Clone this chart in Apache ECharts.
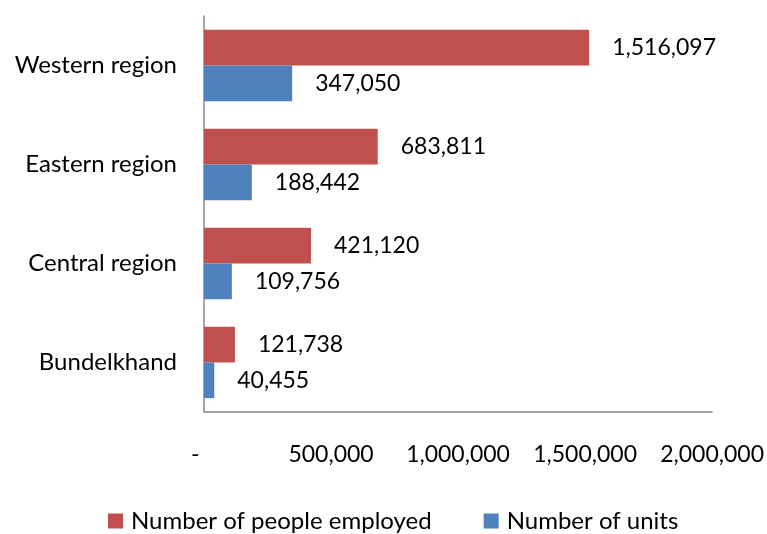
<!DOCTYPE html>
<html>
<head>
<meta charset="utf-8">
<script src="https://cdn.jsdelivr.net/npm/echarts@6/dist/echarts.min.js"></script>
<style>
  html, body { margin: 0; padding: 0; background: #fff; }
  #chart { width: 767px; height: 534px; }
</style>
</head>
<body>
<div id="chart"></div>
<script>
// Regions, listed top to bottom
const regions = ['Western region', 'Eastern region', 'Central region', 'Bundelkhand'];
const peopleEmployed = [1516097, 683811, 421120, 121738];
const numberOfUnits = [347050, 188442, 109756, 40455];
const xTicks = [0, 500000, 1000000, 1500000, 2000000];

const FONT = 'Lato';
const NUM_SIZE = 23;
const TEXT_SIZE = 24;
const fmt = v => v === 0 ? '-   ' : v.toLocaleString('en-US');

const chart = echarts.init(document.getElementById('chart'), null, { renderer: 'canvas' });
chart.setOption({
  animation: false,
  backgroundColor: '#ffffff',
  textStyle: { fontFamily: FONT },
  grid: { left: 204, right: 54, top: 16, bottom: 122, containLabel: false },
  legend: {
    left: 108,
    top: 509,
    padding: 0,
    icon: 'rect',
    itemWidth: 15,
    itemHeight: 15,
    itemGap: 52,
    textStyle: { fontFamily: FONT, fontSize: TEXT_SIZE, color: '#000', padding: [0, 0, 0, 3] },
    data: ['Number of people employed', 'Number of units']
  },
  xAxis: {
    type: 'value',
    min: xTicks[0],
    max: xTicks[xTicks.length - 1],
    interval: xTicks[1] - xTicks[0],
    axisLine: { show: true, lineStyle: { color: '#888888', width: 1.5 } },
    axisTick: { show: false },
    splitLine: { show: false },
    axisLabel: {
      margin: 31,
      fontFamily: FONT,
      fontSize: NUM_SIZE,
      color: '#000',
      formatter: fmt
    }
  },
  yAxis: {
    type: 'category',
    inverse: true,
    data: regions,
    axisLine: { show: true, lineStyle: { color: '#888888', width: 1.5 } },
    axisTick: { show: false },
    axisLabel: { margin: 27, fontFamily: FONT, fontSize: TEXT_SIZE, color: '#000' }
  },
  series: [
    {
      name: 'Number of people employed',
      type: 'bar',
      data: peopleEmployed,
      barGap: '0%',
      barCategoryGap: '28%',
      itemStyle: { color: '#C0504D' },
      label: {
        show: true, position: 'right', distance: 23,
        fontFamily: FONT, fontSize: NUM_SIZE, color: '#000',
        formatter: p => fmt(p.value)
      }
    },
    {
      name: 'Number of units',
      type: 'bar',
      data: numberOfUnits,
      barGap: '0%',
      barCategoryGap: '28%',
      itemStyle: { color: '#4F81BD' },
      label: {
        show: true, position: 'right', distance: 23,
        fontFamily: FONT, fontSize: NUM_SIZE, color: '#000',
        formatter: p => fmt(p.value)
      }
    }
  ]
});
</script>
</body>
</html>
